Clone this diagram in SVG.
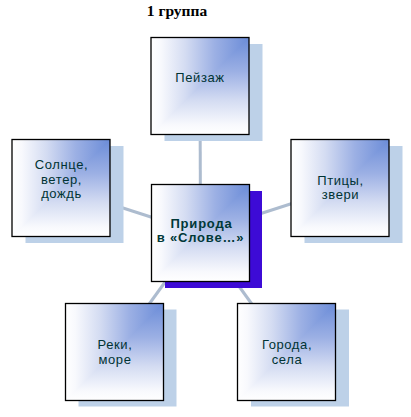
<svg xmlns="http://www.w3.org/2000/svg" width="411" height="417" viewBox="0 0 411 417">
<defs>
<linearGradient id="gh" x1="1" y1="0" x2="0" y2="0">
<stop offset="0" stop-color="#6b8cd8"/>
<stop offset="0.35" stop-color="#9cb0e4"/>
<stop offset="0.65" stop-color="#d4dcf2"/>
<stop offset="0.9" stop-color="#f8f9fd"/>
<stop offset="1" stop-color="#ffffff"/>
</linearGradient>
<linearGradient id="gv" x1="0" y1="0" x2="0" y2="1">
<stop offset="0" stop-color="#6b8cd8"/>
<stop offset="0.35" stop-color="#9cb0e4"/>
<stop offset="0.65" stop-color="#d4dcf2"/>
<stop offset="0.9" stop-color="#f8f9fd"/>
<stop offset="1" stop-color="#ffffff"/>
</linearGradient>
</defs>
<style>
.sh{fill:#bdd1e8}
.shc{fill:#3d0bd6}
.fh{fill:url(#gh)}
.fv{fill:url(#gv)}
.bd{fill:none;stroke:#000;stroke-width:1.3}
.t{font-family:"Liberation Sans",Arial,sans-serif;font-size:13px;fill:#003333;text-anchor:middle;letter-spacing:0.6px}
.tc{font-family:"Liberation Sans",Arial,sans-serif;font-size:13px;font-weight:bold;fill:#003838;text-anchor:middle;letter-spacing:0.8px}
.ttl{font-family:"Liberation Serif","Times New Roman",serif;font-size:15.5px;font-weight:bold;fill:#000;text-anchor:middle}
.cn{stroke:#adbccf;stroke-width:3;fill:none}
</style>
<rect width="411" height="417" fill="#ffffff"/>
<text class="ttl" x="177" y="16">1 группа</text>
<g id="connectors">
<line class="cn" x1="200.5" y1="233" x2="200" y2="86"/>
<line class="cn" x1="200.5" y1="233" x2="61" y2="188"/>
<line class="cn" x1="200.5" y1="233" x2="340" y2="188"/>
<line class="cn" x1="200.5" y1="233" x2="114.5" y2="352"/>
<line class="cn" x1="200.5" y1="233" x2="286.5" y2="352"/>
</g>
<g id="node-peizazh" transform="translate(151,37.5)">
<rect class="sh" x="13.5" y="6.5" width="98" height="97"/>
<rect class="fh" width="98" height="97"/>
<polygon class="fv" points="98,0 98,97 0,97"/>
<rect class="bd" width="98" height="97"/>
<text class="t" x="49" y="44.5">Пейзаж</text>
</g>
<g id="node-solntse" transform="translate(12,139.5)">
<rect class="sh" x="13.5" y="6.5" width="98" height="97"/>
<rect class="fh" width="98" height="97"/>
<polygon class="fv" points="98,0 98,97 0,97"/>
<rect class="bd" width="98" height="97"/>
<text class="t" x="49.5" y="29.5">Солнце,</text>
<text class="t" x="49.5" y="44.5">ветер,</text>
<text class="t" x="49.5" y="58.5">дождь</text>
</g>
<g id="node-ptitsy" transform="translate(291,139.5)">
<rect class="sh" x="13.5" y="6.5" width="98" height="97"/>
<rect class="fh" width="98" height="97"/>
<polygon class="fv" points="98,0 98,97 0,97"/>
<rect class="bd" width="98" height="97"/>
<text class="t" x="49.5" y="45">Птицы,</text>
<text class="t" x="49.5" y="59">звери</text>
</g>
<g id="node-priroda" transform="translate(151.5,184.5)">
<rect class="shc" x="13.5" y="6.5" width="97" height="97"/>
<rect class="fh" width="98" height="97"/>
<polygon class="fv" points="98,0 98,97 0,97"/>
<rect class="bd" width="98" height="97"/>
<text class="tc" x="50" y="43">Природа</text>
<text class="tc" x="49" y="57.5">в «Слове…»</text>
</g>
<g id="node-reki" transform="translate(65.5,303.5)">
<rect class="sh" x="13" y="6" width="98" height="97"/>
<rect class="fh" width="98" height="97"/>
<polygon class="fv" points="98,0 98,97 0,97"/>
<rect class="bd" width="98" height="97"/>
<text class="t" x="49.5" y="45">Реки,</text>
<text class="t" x="49.5" y="60">море</text>
</g>
<g id="node-goroda" transform="translate(237.5,303.5)">
<rect class="sh" x="13.5" y="6" width="98" height="97"/>
<rect class="fh" width="98" height="97"/>
<polygon class="fv" points="98,0 98,97 0,97"/>
<rect class="bd" width="98" height="97"/>
<text class="t" x="49.5" y="45">Города,</text>
<text class="t" x="49.5" y="60">села</text>
</g>
</svg>
